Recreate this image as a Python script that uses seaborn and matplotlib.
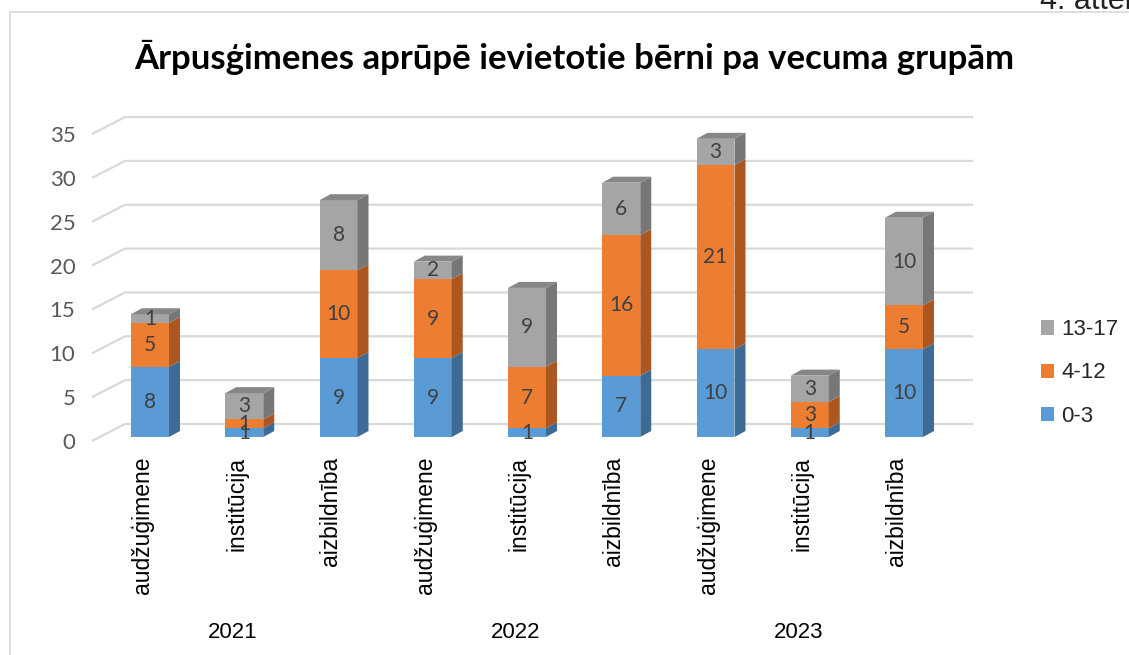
import numpy as np
import pandas as pd
import matplotlib.pyplot as plt
import seaborn as sns
from matplotlib.patches import Polygon, Patch
from matplotlib.lines import Line2D
from matplotlib.transforms import blended_transform_factory

# data
gadi = ["2021", "2022", "2023"]
veidi = ["audžuģimene", "institūcija", "aizbildnība"]
grupas = ["0-3", "4-12", "13-17"]
v_0_3 = [8, 1, 9, 9, 1, 7, 10, 1, 10]
v_4_12 = [5, 1, 10, 9, 7, 16, 21, 3, 5]
v_13_17 = [1, 3, 8, 2, 9, 6, 3, 3, 10]
y_ticks = [0, 5, 10, 15, 20, 25, 30, 35]
title = "Ārpusģimenes aprūpē ievietotie bērni pa vecuma grupām"

front_col = ["#5b9bd5", "#ed7d31", "#a5a5a5"]
side_col = ["#3c6b96", "#ac5720", "#777777"]
top_col = "#878787"
grid_col = "#d9d9d9"
txt_col = "#404040"

sns.set_style("white")
plt.rcParams["font.family"] = ["Liberation Sans", "DejaVu Sans"]

ids = [f"{g} {v}" for g in gadi for v in veidi]
labels = [v for g in gadi for v in veidi]
df = pd.DataFrame({"id": ids, "a": v_0_3, "b": v_4_12, "c": v_13_17})
df["cum1"] = df["a"]
df["cum2"] = df["a"] + df["b"]
df["cum3"] = df["cum2"] + df["c"]

W, H = 1129, 655
fig = plt.figure(figsize=(W / 100, H / 100), dpi=100)

# pixel geometry of the plot
ppx, x0 = 94.25, 150
ppy, y0 = 8.77, 437
al, ar, at, ab = 92, 973, 112, 443
ax = fig.add_axes([al / W, 1 - ab / H, (ar - al) / W, (ab - at) / H])

bw = 38 / ppx
bdx, bdy = 11 / ppx, 6 / ppy
wdx, wdy = 33 / ppx, 17 / ppy
back_off = 13 / ppy

# stacked bars, tallest first
for col, c in zip(["cum3", "cum2", "cum1"], front_col[::-1]):
    sns.barplot(data=df, x="id", y=col, order=ids, color=c, width=bw,
                saturation=1, linewidth=0, ax=ax, zorder=3)

xmin = (al - x0) / ppx
xmax = (ar - x0) / ppx

# gridlines: back wall and left wall
for v in y_ticks:
    yb = v + back_off
    yf = yb - wdy
    ax.plot([xmin, xmin + wdx, xmax], [yf, yb, yb], color=grid_col, lw=1.6,
            zorder=1, clip_on=False, solid_capstyle="butt")

# 3d side and top faces + value labels
for i in range(len(ids)):
    segs = [(0, df["cum1"][i]), (df["cum1"][i], df["cum2"][i]), (df["cum2"][i], df["cum3"][i])]
    xr = i + bw / 2
    for k, (b, t) in enumerate(segs):
        ax.add_patch(Polygon([(xr, b), (xr + bdx, b + bdy), (xr + bdx, t + bdy), (xr, t)],
                             closed=True, facecolor=side_col[k], edgecolor="none", zorder=3))
        ax.text(i, (b + t) / 2, str(t - b), ha="center", va="center", fontsize=15,
                color=txt_col, family="Lato", zorder=5)
    T = df["cum3"][i]
    ax.add_patch(Polygon([(i - bw / 2, T), (i - bw / 2 + bdx, T + bdy),
                          (xr + bdx, T + bdy), (xr, T)],
                         closed=True, facecolor=top_col, edgecolor="none", zorder=3))

ax.set_xlim(xmin, xmax)
ax.set_ylim((y0 - ab) / ppy, (y0 - at) / ppy)
ax.set_xlabel("")
ax.set_ylabel("")
for s in ax.spines.values():
    s.set_visible(False)
ax.set_facecolor("none")

ax.set_yticks([v + back_off - wdy for v in y_ticks], [str(v) for v in y_ticks])
ax.tick_params(axis="y", length=0, pad=12, labelsize=16, labelcolor="#595959")
for t in ax.get_yticklabels():
    t.set_family("Lato")

ax.set_xticks(np.arange(len(ids)) - 0.08, labels, rotation=90)
ax.tick_params(axis="x", length=0, pad=10, labelsize=16.5, labelcolor="black")
for t in ax.get_xticklabels():
    t.set_va("top")
    t.set_ha("center")

tr = blended_transform_factory(ax.transData, fig.transFigure)
for g, gads in enumerate(gadi):
    ax.text(g * 3 + 1 - 0.12, 1 - 632 / H, gads, transform=tr, ha="center",
            va="center", fontsize=16, color="black")

# legend
handles = [Patch(facecolor=front_col[k], edgecolor="none", label=grupas[k]) for k in [2, 1, 0]]
fig.legend(handles=handles, loc="center left", bbox_to_anchor=(1021 / W, 1 - 373 / H),
           frameon=False, fontsize=16, handlelength=0.6, handleheight=0.6,
           handletextpad=0.3, labelspacing=1.0)

# title and frame
fig.text(574 / W, 1 - 57 / H, title, ha="center", va="center", fontsize=25,
         weight="bold", family="Lato", color="black")
fig.text(1040 / W, 1 - 9 / H, "4. attēls", ha="left", va="baseline", fontsize=22,
         color="#222222")
fig.add_artist(Line2D([10 / W, 10 / W], [0, 1 - 12 / H], transform=fig.transFigure,
                      color=grid_col, lw=1.2))
fig.add_artist(Line2D([10 / W, 1], [1 - 12 / H, 1 - 12 / H], transform=fig.transFigure,
                      color=grid_col, lw=1.2))

fig.savefig("out.png", dpi=100)
